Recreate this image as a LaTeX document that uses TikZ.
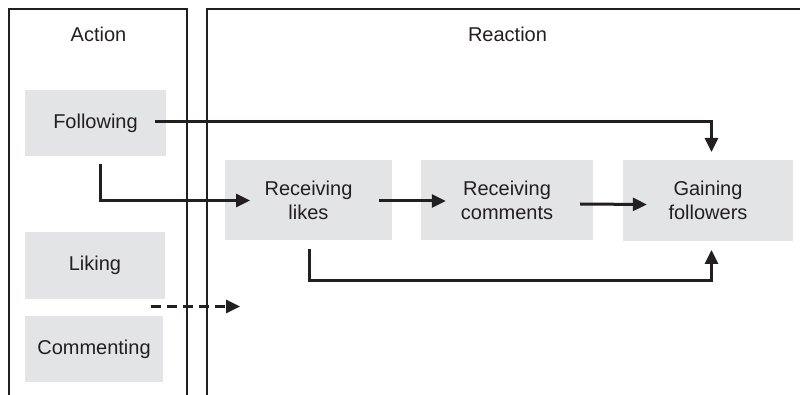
\documentclass[tikz,border=0pt]{standalone}
\usepackage{fontspec}
\setmainfont{Liberation Sans}
\usetikzlibrary{arrows.meta}
\definecolor{boxgray}{HTML}{E3E4E6}
\definecolor{ink}{HTML}{231F20}

\begin{document}
\begin{tikzpicture}[x=1pt, y=-1pt,
    box/.style={fill=boxgray, inner sep=0pt, align=center, text=ink,
      font=\fontsize{20}{24}\selectfont},
    arr/.style={draw=ink, line width=3pt, -{Triangle[length=14pt,width=13pt]}}]
            \useasboundingbox (0,0) rectangle (800,395);
            % frames
            \draw[ink, line width=2pt] (9,395) -- (9,9) -- (187,9) -- (187,395);
            \draw[ink, line width=2pt] (207,395) -- (207,9) -- (800,9);
            \node[text=ink, font=\fontsize{20}{24}\selectfont] (action) at (98.5,34.5) {Action};
            \node[text=ink, font=\fontsize{20}{24}\selectfont] (reaction) at (507.5,34.5) {Reaction};
            % boxes
            \node[box, minimum width=141pt, minimum height=66pt] (following) at (95.5,123) {Following};
            \node[box, minimum width=140pt, minimum height=67pt] (liking) at (95,265.5) {Liking};
            \node[box, minimum width=138pt, minimum height=66pt] (commenting) at (94,349) {Commenting};
            \node[box, minimum width=167pt, minimum height=80pt] (likes) at (308.5,200) {Receiving\\likes};
            \node[box, minimum width=172pt, minimum height=80pt] (comments) at (507,200) {Receiving\\comments};
            \node[box, minimum width=170pt, minimum height=81pt] (gaining) at (708,200.5) {Gaining\\followers};
            % arrows
            \coordinate (gaintop) at (711.5,152);
            \coordinate (gainbot) at (711.5,250);
            \coordinate (likesin) at (250,200.5);
            \coordinate (dashstart) at (151,306.5);
            \coordinate (dashend) at (240,306.5);
            \draw[arr] ([xshift=-11pt,yshift=1pt]following.east) -| (gaintop);
            \draw[arr] ([xshift=5pt,yshift=-8pt]following.south) |- (likesin);
            \draw[arr] ([xshift=-13pt,yshift=-1pt]likes.east) -- ([xshift=25pt,yshift=-1pt]comments.west);
            \draw[arr] ([xshift=-13pt,yshift=-4pt]comments.east) -- ([xshift=24pt,yshift=-4pt]gaining.west);
            \draw[arr] ([xshift=1pt,yshift=-9pt]likes.south) -- ++(0,31) -| (gainbot);
            \draw[arr, dash pattern=on 10pt off 6pt] (dashstart) -- (dashend);
        \end{tikzpicture}
\end{document}
